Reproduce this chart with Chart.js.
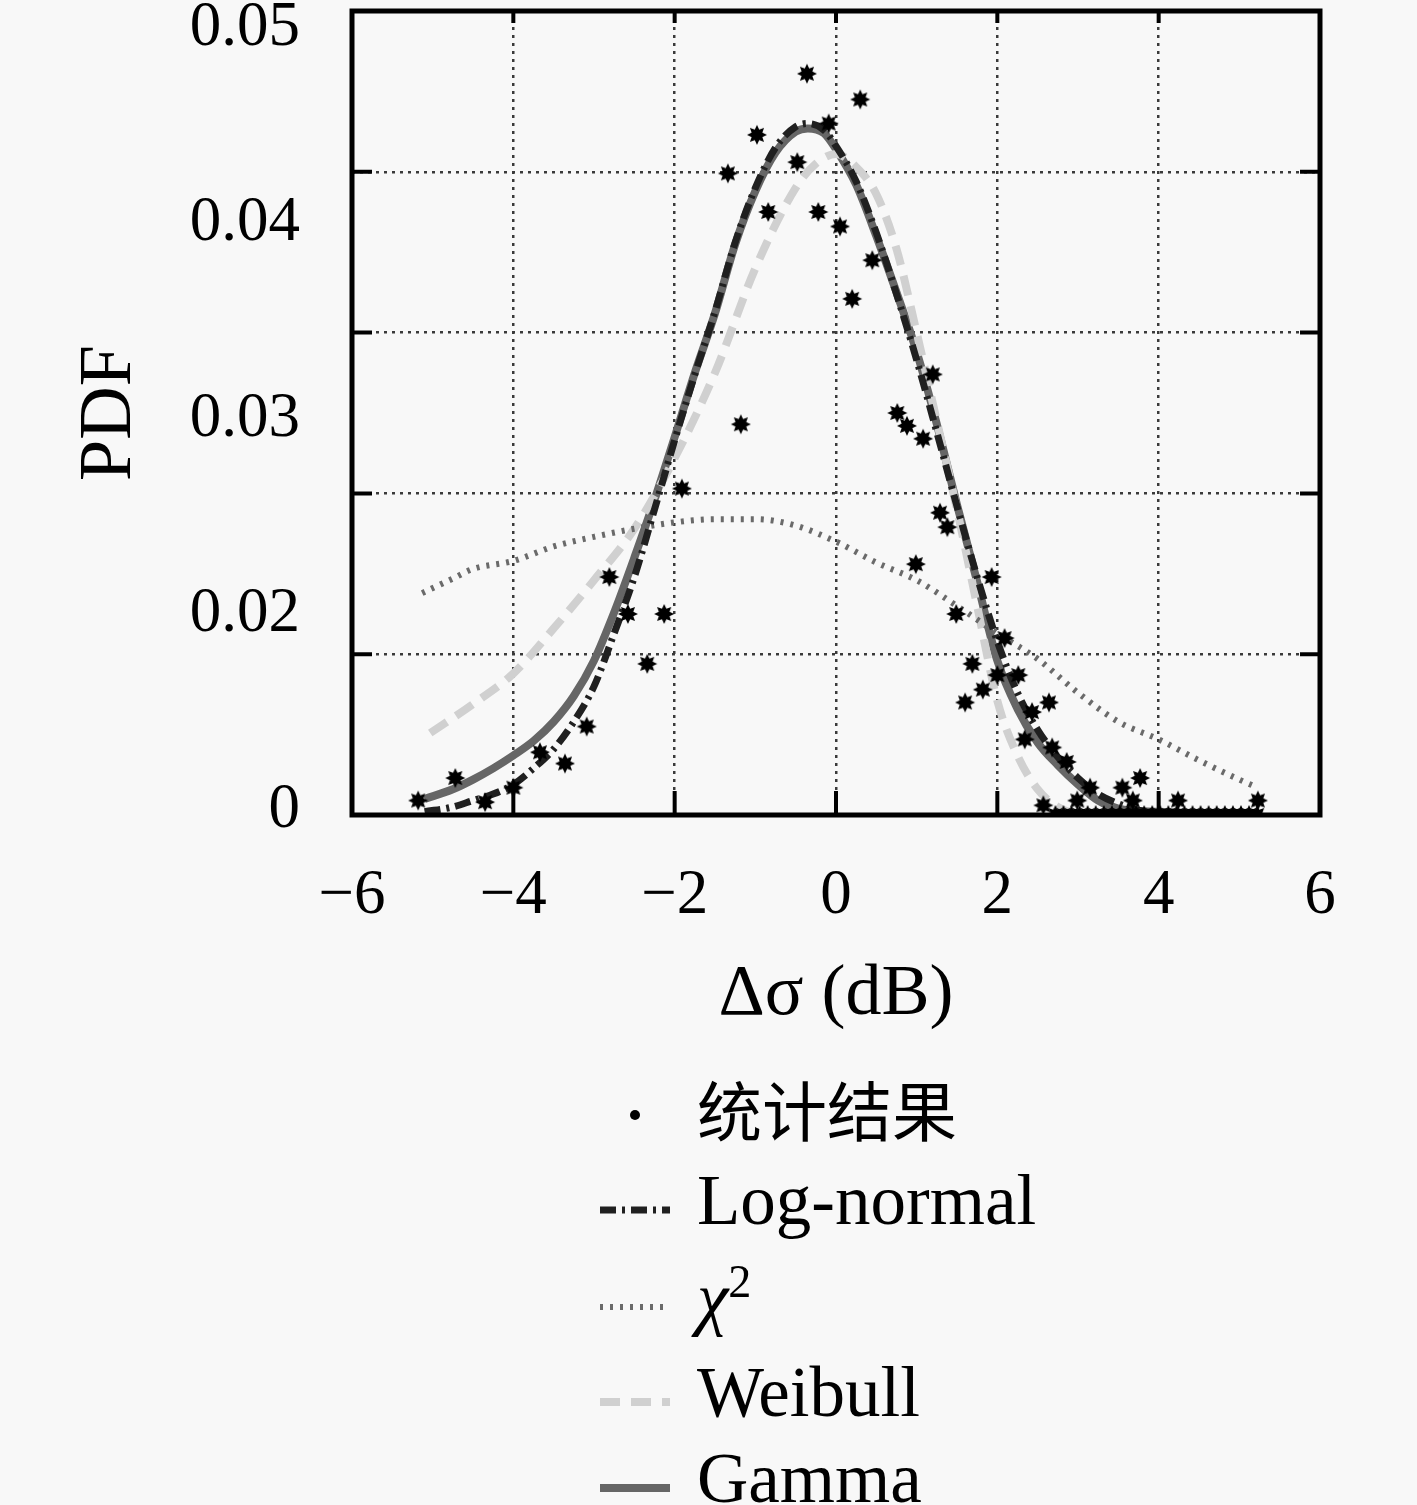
<!DOCTYPE html>
<html>
<head>
<meta charset="utf-8">
<script src="https://cdn.jsdelivr.net/npm/chart.js@4.4.1/dist/chart.umd.min.js"></script>
<style>
html,body{margin:0;padding:0;background:#f8f8f8;}
#wrap{position:relative;width:1417px;height:1060px;}
#legend{position:absolute;left:0;top:0;width:1417px;height:1505px;}
.row{position:absolute;left:600px;height:90px;display:flex;align-items:center;
  font-family:'Liberation Serif','Noto Sans CJK SC',serif;font-size:71px;color:#000;white-space:nowrap;}
.row svg{width:70px;height:90px;margin-right:27px;flex:none;}
</style>
</head>
<body>
<div id="wrap"><canvas id="c"></canvas></div>
<div id="legend"></div>
<script>
// measured points (统计结果)
const statsX = [-5.18,-4.72,-4.35,-4.0,-3.67,-3.36,-3.09,-2.81,-2.58,-2.34,-2.13,-1.91,-1.34,-1.18,-0.98,-0.84,
  -0.48,-0.36,-0.22,-0.09,0.05,0.2,0.3,0.45,0.76,0.88,0.99,1.08,1.2,1.29,1.38,1.49,1.6,1.69,1.82,1.93,2.0,2.09,
  2.26,2.34,2.43,2.57,2.64,2.68,2.86,2.99,3.15,3.55,3.68,3.77,4.24,5.23,
  2.72,2.82,2.92,3.02,3.12,3.22,3.32,3.42,3.52,3.62,3.72,3.82,3.92,4.02,4.12,4.22,4.32,4.42,4.52,4.62,4.72,4.82,4.92,5.02,5.12,5.22];
const statsY = [0.0009,0.0023,0.0008,0.0017,0.0039,0.0032,0.0055,0.0148,0.0125,0.0094,0.0125,0.0203,0.0399,0.0243,0.0423,0.0375,
  0.0406,0.0461,0.0375,0.0430,0.0366,0.0321,0.0445,0.0345,0.0250,0.0242,0.0156,0.0234,0.0274,0.0188,0.0179,0.0125,0.0070,0.0094,0.0078,0.0148,0.0087,0.0110,
  0.0087,0.0047,0.0064,0.0006,0.0070,0.0042,0.0033,0.0009,0.0017,0.0017,0.0009,0.0023,0.0009,0.0009,
  0,0,0,0,0,0,0,0,0,0,0,0,0,0,0,0,0,0,0,0,0,0,0,0,0,0];

const lognormalX = [-5.1,-4.75,-4.5,-4.25,-4.0,-3.75,-3.5,-3.25,-3.0,-2.75,-2.5,-2.25,-2.0,-1.75,-1.5,-1.25,-1.0,-0.75,-0.5,-0.35,-0.15,0,
  0.25,0.5,0.75,1.0,1.25,1.5,1.75,2.0,2.25,2.5,2.75,3.0,3.25,3.5,3.75,4.0,5.25];
const lognormalY = [0.0002,0.0005,0.0009,0.0013,0.0019,0.0029,0.0041,0.0058,0.0080,0.0113,0.0148,0.0190,0.0233,0.0274,0.0313,0.0356,0.0390,0.0415,0.0428,0.0430,0.0426,0.0416,
  0.0394,0.0362,0.0324,0.0283,0.0238,0.0192,0.0148,0.0108,0.0076,0.0053,0.0036,0.0023,0.0013,0.0007,0.0003,0.0001,0];

const chi2X = [-5.13,-4.75,-4.5,-4.0,-3.5,-3.0,-2.5,-2.0,-1.5,-1.0,-0.5,0,0.5,1.0,1.5,2.0,2.5,3.0,3.5,4.0,4.5,5.0,5.23];
const chi2Y = [0.0138,0.0147,0.0153,0.0158,0.0167,0.0173,0.0178,0.0182,0.0184,0.0184,0.0180,0.0170,0.0157,0.0146,0.0130,0.0113,0.0097,0.0076,0.0058,0.0047,0.0034,0.0022,0.0017];

const weibullX = [-5.03,-4.5,-4.0,-3.5,-3.0,-2.5,-2.0,-1.5,-1.0,-0.5,-0.25,0,0.25,0.5,0.75,1.0,1.25,1.5,1.75,2.0,2.25,2.5,2.75,3.0,5.25];
const weibullY = [0.0051,0.0069,0.0088,0.0116,0.0146,0.0178,0.0222,0.0275,0.0340,0.0390,0.0405,0.0411,0.0403,0.0386,0.0352,0.0300,0.0245,0.0190,0.0130,0.0071,0.0037,0.0016,0.0005,0.0001,0];

const gammaX = [-5.1,-4.75,-4.5,-4.25,-4.0,-3.75,-3.5,-3.25,-3.0,-2.75,-2.5,-2.25,-2.0,-1.75,-1.5,-1.25,-1.0,-0.75,-0.5,-0.35,-0.15,0,
  0.25,0.5,0.75,1.0,1.25,1.5,1.75,2.0,2.25,2.5,2.75,3.0,3.25,3.5,4.0,5.25];
const gammaY = [0.0010,0.0016,0.0022,0.0029,0.0037,0.0046,0.0058,0.0074,0.0096,0.0126,0.0160,0.0196,0.0235,0.0275,0.0312,0.0355,0.0388,0.0412,0.0425,0.0427,0.0424,0.0414,
  0.0392,0.0360,0.0325,0.0288,0.0243,0.0193,0.0145,0.0096,0.0066,0.0045,0.0031,0.0019,0.0009,0.0004,0.0002,0];

const seriesNames = ['统计结果','Log-normal','χ²','Weibull','Gamma'];
const yTickLabels = ['0','0.02','0.03','0.04','0.05'];
const xTitle = 'Δσ (dB)';
const yTitle = 'PDF';

const SERIF = "'Liberation Serif','Noto Sans CJK SC',serif";
const pts = (xs, ys) => xs.map((x, i) => ({x: x, y: ys[i]}));

// filled 8-point star used as marker
function starMarker(r) {
  const c = document.createElement('canvas');
  const s = Math.ceil(r * 2 + 2);
  c.width = s; c.height = s;
  const g = c.getContext('2d');
  g.fillStyle = '#000';
  g.beginPath();
  for (let k = 0; k < 16; k++) {
    const ang = k * Math.PI / 8;
    const rr = k % 2 === 0 ? r : r * 0.58;
    g.lineTo(s / 2 + rr * Math.cos(ang), s / 2 + rr * Math.sin(ang));
  }
  g.closePath();
  g.fill();
  return c;
}

function lineSet(label, xs, ys, color, width, dash) {
  return {
    label: label, data: pts(xs, ys), showLine: true, pointRadius: 0,
    borderColor: color, backgroundColor: color, borderWidth: width, borderDash: dash,
    cubicInterpolationMode: 'monotone', fill: false
  };
}

const frame = {
  id: 'frame',
  afterDraw(chart) {
    const {ctx, chartArea: a, scales: {x, y}} = chart;
    ctx.save();
    ctx.strokeStyle = '#000';
    ctx.lineWidth = 4;
    ctx.beginPath();
    x.ticks.forEach(t => {
      if (t.value <= x.min || t.value >= x.max) return;
      const p = x.getPixelForValue(t.value);
      ctx.moveTo(p, a.bottom); ctx.lineTo(p, a.bottom - 24);
      ctx.moveTo(p, a.top); ctx.lineTo(p, a.top + 12);
    });
    y.ticks.forEach(t => {
      if (t.value <= y.min || t.value >= y.max - 1e-9) return;
      const p = y.getPixelForValue(t.value);
      ctx.moveTo(a.left, p); ctx.lineTo(a.left + 20, p);
      ctx.moveTo(a.right, p); ctx.lineTo(a.right - 20, p);
    });
    ctx.stroke();
    ctx.lineWidth = 5;
    ctx.strokeRect(a.left, a.top, a.right - a.left, a.bottom - a.top);
    ctx.restore();
  }
};

const datasets = [
  {label: seriesNames[0], data: pts(statsX, statsY), showLine: false, pointStyle: starMarker(10),
   pointRadius: 10, borderColor: '#000', backgroundColor: '#000'},
  lineSet(seriesNames[1], lognormalX, lognormalY, '#202020', 7, [16, 6, 3, 6]),
  lineSet(seriesNames[2], chi2X, chi2Y, '#6a6a6a', 6, [3, 7]),
  lineSet(seriesNames[3], weibullX, weibullY, '#d0d0d0', 8, [20, 11]),
  lineSet(seriesNames[4], gammaX, gammaY, '#666666', 8, [])
];

const chart = new Chart(document.getElementById('c'), {
  type: 'scatter',
  data: {datasets: datasets},
  plugins: [frame],
  options: {
    responsive: true, maintainAspectRatio: false, animation: false,
    layout: {padding: {top: 10, right: 97, left: 0, bottom: 0}},
    plugins: {legend: {display: false}, tooltip: {enabled: false}},
    scales: {
      x: {
        type: 'linear', position: 'bottom', min: -6, max: 6,
        ticks: {stepSize: 2, padding: 44, color: '#000', maxRotation: 0, font: {family: SERIF, size: 63},
          callback: v => (v < 0 ? '\u2212' + Math.abs(v) : String(v))},
        grid: {color: '#3a3a3a', lineWidth: 2.5, drawTicks: false},
        border: {display: false, dash: [3, 5]},
        title: {display: true, text: xTitle, color: '#000', font: {family: SERIF, size: 72}, padding: {top: 0, bottom: 22}},
        afterFit: s => { s.height = 245; s.paddingLeft = 0; s.paddingRight = 0; }
      },
      y: {
        type: 'linear', position: 'left', min: 0, max: 0.05,
        ticks: {display: false, stepSize: 0.01},
        grid: {color: '#3a3a3a', lineWidth: 2.5, drawTicks: false},
        border: {display: false, dash: [3, 5]},
        afterFit: s => { s.width = 0; s.paddingTop = 0; s.paddingBottom = 0; }
      },
      yl: {
        type: 'linear', position: 'left', min: -0.02556, max: 4.0894,
        ticks: {stepSize: 1, includeBounds: false, padding: 52, color: '#000', font: {family: SERIF, size: 63},
          callback: v => (Number.isInteger(v) && yTickLabels[v] !== undefined ? yTickLabels[v] : '')},
        grid: {display: false, drawTicks: false},
        border: {display: false},
        title: {display: true, text: yTitle, color: '#000', font: {family: SERIF, size: 74}, padding: {top: 66, bottom: 0}},
        afterFit: s => { s.width = 352; s.paddingTop = 0; s.paddingBottom = 0; }
      }
    }
  }
});

// legend below the plot, built from the datasets
const rowCenters = [1108, 1200, 1297, 1392, 1478];
const legend = document.getElementById('legend');
datasets.forEach((ds, i) => {
  const row = document.createElement('div');
  row.className = 'row';
  row.style.top = (rowCenters[i] - 45) + 'px';
  if (/[\u4e00-\u9fff]/.test(ds.label)) row.style.fontSize = '65px';
  let sample;
  if (!ds.showLine) {
    sample = '<svg viewBox="0 0 70 90"><circle cx="35" cy="52" r="5" fill="#000"/></svg>';
  } else {
    const dash = ds.borderDash.length ? ds.borderDash.join(',') : 'none';
    sample = '<svg viewBox="0 0 70 90"><line x1="0" y1="55" x2="70" y2="55" stroke="' + ds.borderColor +
      '" stroke-width="' + ds.borderWidth + '" stroke-dasharray="' + dash + '"/></svg>';
  }
  const text = ds.label.replace('χ²', '<i>χ</i><sup style="font-size:0.65em">2</sup>');
  row.innerHTML = sample + '<span>' + text + '</span>';
  legend.appendChild(row);
});
</script>
</body>
</html>
